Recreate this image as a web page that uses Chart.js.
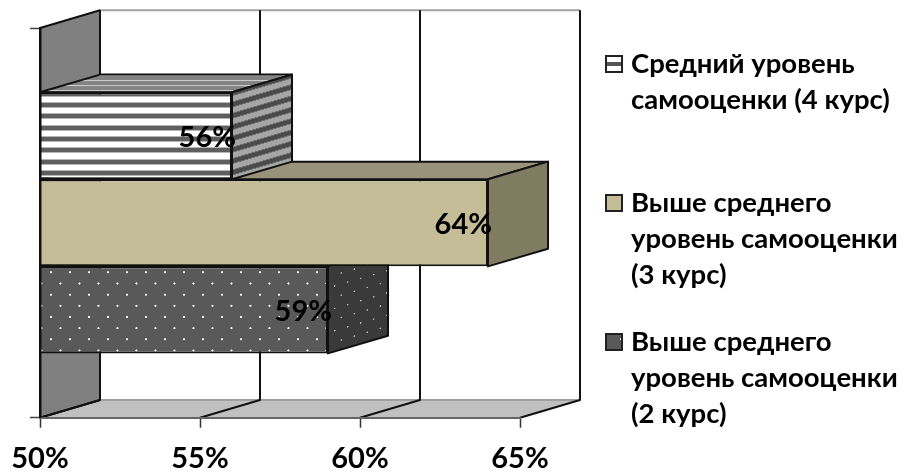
<!DOCTYPE html>
<html lang="ru">
<head>
<meta charset="utf-8">
<title>Уровень самооценки</title>
<script src="https://cdn.jsdelivr.net/npm/chart.js@4/dist/chart.umd.min.js"></script>
<style>
  html, body { margin: 0; padding: 0; background: #fff; }
  #wrap { position: relative; width: 904px; height: 472px; }
</style>
</head>
<body>
<div id="wrap"><canvas id="chart" width="904" height="472"></canvas></div>
<script>
const categories = [''];
const seriesCourse4 = [56];
const seriesCourse3 = [64];
const seriesCourse2 = [59];
const legendCourse4 = ['Средний уровень', 'самооценки (4 курс)'];
const legendCourse3 = ['Выше среднего', 'уровень самооценки', '(3 курс)'];
const legendCourse2 = ['Выше среднего', 'уровень самооценки', '(2 курс)'];

const FAMILY = 'Lato, "Open Sans", sans-serif';
const LEGEND_FONT = `bold 27.5px ${FAMILY}`;
const VALUE_FONT = `bold 29px ${FAMILY}`;
const DEPTH_X = 60, DEPTH_Y = 17.7;
const LINE = '#111';
const TAN = '#c4bd97', TAN_TOP = '#98937a', TAN_SIDE = '#807c62';

// Pattern tiles are painted three times larger, then scaled down for sub-pixel periods.
function tile(w, h, paint, matrix) {
  const c = document.createElement('canvas');
  c.width = w; c.height = h;
  const g = c.getContext('2d');
  paint(g, w, h);
  const p = g.createPattern(c, 'repeat');
  p.setTransform(matrix);
  return p;
}

function stripes(base, band, edge) {
  return (g, w, h) => {
    g.fillStyle = base; g.fillRect(0, 0, w, h);
    g.fillStyle = edge; g.fillRect(0, 0, w, 18);
    g.fillStyle = band; g.fillRect(0, 3, w, 12);
  };
}

function dots(base, dot, r) {
  return (g, w, h) => {
    g.fillStyle = base; g.fillRect(0, 0, w, h);
    g.fillStyle = dot;
    [[w * 0.25, h * 0.25], [w * 0.75, h * 0.75]].forEach(([x, y]) => {
      g.beginPath(); g.arc(x, y, r, 0, Math.PI * 2); g.fill();
    });
  };
}

const stripeFront = tile(6, 34, stripes('#ffffff', '#5f5f5f', '#b5b5b5'),
  new DOMMatrix([1 / 3, 0, 0, 1 / 3, 0, 0]));
const stripeSide = tile(6, 34, stripes('#a6a6a6', '#4a4a4a', '#6e6e6e'),
  new DOMMatrix([1 / 3, -DEPTH_Y / DEPTH_X / 3, 0, 1 / 3, 0, 170]));
const stripeTop = tile(6, 15, (g, w, h) => {
  g.fillStyle = '#838383'; g.fillRect(0, 0, w, h);
  g.fillStyle = '#cacaca'; g.fillRect(0, 0, w, 4);
}, new DOMMatrix([1 / 3, 0, 0, 1 / 3, 0, 0]));
const dotFront = tile(57, 67, dots('#595959', '#f2f2f2', 3.2),
  new DOMMatrix([1 / 3, 0, 0, 1 / 3, -1.25, -12.45]));
const dotSide = tile(39, 67, dots('#3a3a3a', '#b8b8b8', 2.4),
  new DOMMatrix([1 / 3, -DEPTH_Y / DEPTH_X / 3, 0, 1 / 3, 0, 100]));

const sideFills = [stripeSide, TAN_SIDE, dotSide];
const topFills = [stripeTop, TAN_TOP, '#3a3a3a'];

function poly(ctx, pts, fill, stroke, width) {
  ctx.beginPath();
  pts.forEach(([x, y], i) => (i ? ctx.lineTo(x, y) : ctx.moveTo(x, y)));
  ctx.closePath();
  if (fill) { ctx.fillStyle = fill; ctx.fill(); }
  if (stroke) { ctx.strokeStyle = stroke; ctx.lineWidth = width; ctx.stroke(); }
}

// Back wall, side wall and floor of the box behind the bars.
const wallsPlugin = {
  id: 'walls',
  beforeDatasetsDraw(chart) {
    const { ctx, chartArea: a, scales: { x } } = chart;
    ctx.save();
    ctx.lineJoin = 'round';
    const backTop = a.top - DEPTH_Y, backBottom = a.bottom - DEPTH_Y;
    poly(ctx, [[a.left, a.bottom], [a.left + DEPTH_X, backBottom],
      [a.right + DEPTH_X, backBottom], [a.right, a.bottom]], '#c0c0c0');
    poly(ctx, [[a.left, a.top], [a.left + DEPTH_X, backTop],
      [a.left + DEPTH_X, backBottom], [a.left, a.bottom]], '#808080', LINE, 2);

    ctx.strokeStyle = '#a0a0a0'; ctx.lineWidth = 2;
    ctx.beginPath();
    ctx.moveTo(a.left + DEPTH_X, backTop); ctx.lineTo(a.right + DEPTH_X, backTop);
    ctx.moveTo(a.left + DEPTH_X, backBottom); ctx.lineTo(a.right + DEPTH_X, backBottom);
    ctx.stroke();

    ctx.strokeStyle = LINE; ctx.lineWidth = 2;
    x.ticks.forEach((t) => {
      const px = x.getPixelForValue(t.value);
      ctx.beginPath();
      ctx.moveTo(px, a.bottom);
      ctx.lineTo(px + DEPTH_X, backBottom);
      ctx.lineTo(px + DEPTH_X, backTop);
      ctx.stroke();
    });

    // Extruded top and side of each bar, lowest bar first so upper ones overlap it.
    for (let i = chart.data.datasets.length - 1; i >= 0; i--) {
      const bar = chart.getDatasetMeta(i).data[0];
      const t = bar.y - bar.height / 2, b = bar.y + bar.height / 2;
      poly(ctx, [[a.left, t], [a.left + DEPTH_X, t - DEPTH_Y],
        [bar.x + DEPTH_X, t - DEPTH_Y], [bar.x, t]], topFills[i], LINE, 2);
      poly(ctx, [[bar.x, t], [bar.x + DEPTH_X, t - DEPTH_Y],
        [bar.x + DEPTH_X, b - DEPTH_Y], [bar.x, b]], sideFills[i], LINE, 2);
    }
    ctx.restore();
  }
};

const valueLabelsPlugin = {
  id: 'valueLabels',
  afterDatasetsDraw(chart) {
    const { ctx } = chart;
    ctx.save();
    ctx.font = VALUE_FONT; ctx.fillStyle = '#000';
    ctx.textAlign = 'right'; ctx.textBaseline = 'middle';
    chart.data.datasets.forEach((ds, i) => {
      const bar = chart.getDatasetMeta(i).data[0];
      ctx.fillText(ds.data[0] + '%', bar.x + 4, bar.y + 2);
    });
    ctx.restore();
  }
};

const legendBlocks = [
  { lines: legendCourse4, fill: '#ffffff', y: 64, stripe: true },
  { lines: legendCourse3, fill: TAN, y: 203 },
  { lines: legendCourse2, fill: dotFront, y: 342 }
];

const sideLegendPlugin = {
  id: 'sideLegend',
  afterDraw(chart) {
    const { ctx } = chart;
    ctx.save();
    legendBlocks.forEach((item) => {
      ctx.fillStyle = item.fill;
      ctx.fillRect(606, item.y - 8, 16, 16);
      if (item.stripe) {
        ctx.fillStyle = '#555';
        ctx.fillRect(606, item.y - 2, 16, 4);
      }
      ctx.strokeStyle = '#222'; ctx.lineWidth = 2;
      ctx.strokeRect(606, item.y - 8, 16, 16);
      ctx.font = LEGEND_FONT; ctx.fillStyle = '#000';
      ctx.textAlign = 'left'; ctx.textBaseline = 'middle';
      item.lines.forEach((line, n) => ctx.fillText(line, 631, item.y + n * 36));
    });
    ctx.restore();
  }
};

new Chart(document.getElementById('chart'), {
  type: 'bar',
  data: {
    labels: categories,
    datasets: [
      { label: legendCourse4.join(' '), data: seriesCourse4, backgroundColor: stripeFront },
      { label: legendCourse3.join(' '), data: seriesCourse3, backgroundColor: TAN },
      { label: legendCourse2.join(' '), data: seriesCourse2, backgroundColor: dotFront }
    ]
  },
  options: {
    indexAxis: 'y',
    responsive: false,
    animation: false,
    layout: { padding: { left: 30, right: 384, top: 28, bottom: 0 } },
    datasets: {
      bar: {
        barPercentage: 1,
        categoryPercentage: 0.67,
        borderColor: LINE,
        borderWidth: 2,
        borderSkipped: false
      }
    },
    scales: {
      x: {
        min: 50,
        max: 65,
        afterFit(scale) {
          // Tick labels may overhang the plot edges; the plot keeps its full width.
          scale.height = 54.3;
          scale.paddingLeft = 0;
          scale.paddingRight = 0;
        },
        border: { display: true, color: '#666', width: 2, z: 1 },
        grid: { drawOnChartArea: false, drawTicks: true, tickLength: 10, tickColor: '#333', tickWidth: 1.5 },
        ticks: {
          stepSize: 5,
          padding: 14,
          maxRotation: 0,
          color: '#000',
          font: { family: FAMILY, size: 29, weight: 'bold' },
          callback: (v) => v + '%'
        }
      },
      y: {
        border: { display: true, color: '#111', width: 2.5, z: 1 },
        grid: { drawOnChartArea: false, drawTicks: true, tickLength: 10, tickColor: '#444', tickWidth: 1.5 },
        ticks: { display: false, padding: 0 },
        afterFit(scale) { scale.width = 10; }
      }
    },
    plugins: { legend: { display: false }, tooltip: { enabled: false }, title: { display: false } }
  },
  plugins: [wallsPlugin, valueLabelsPlugin, sideLegendPlugin]
});
</script>
</body>
</html>
